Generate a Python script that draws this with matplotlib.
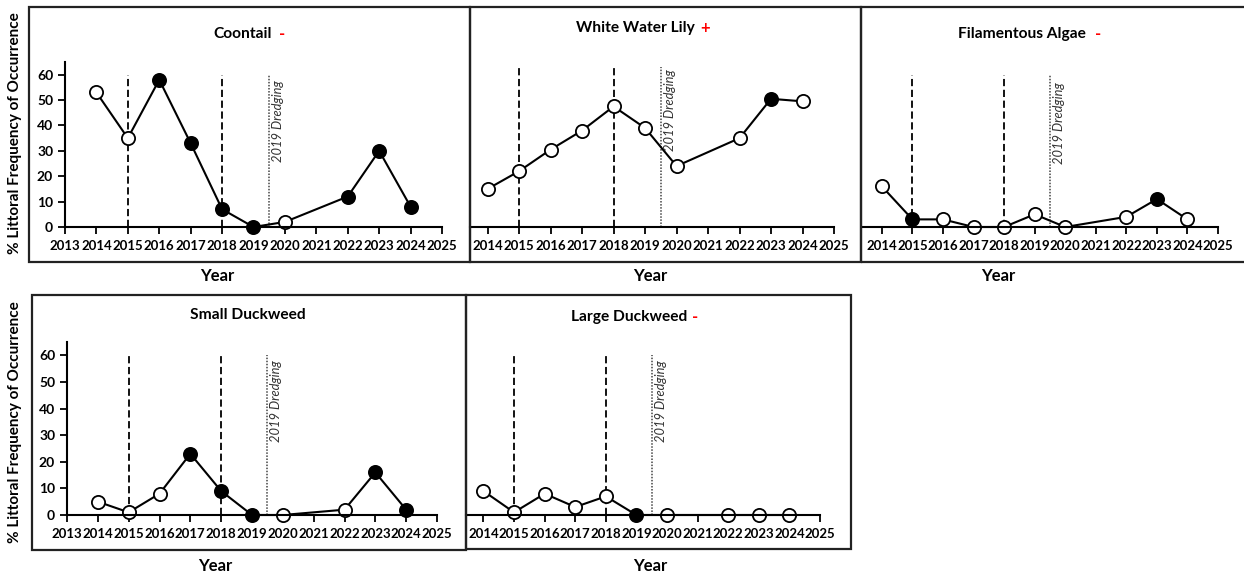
import matplotlib.pyplot as plt
from matplotlib.patches import Rectangle

plt.rcParams['font.family'] = ['Lato', 'DejaVu Sans']

years = [2014, 2015, 2016, 2017, 2018, 2019, 2020, 2022, 2023, 2024]

coontail = [53, 35, 58, 33, 7, 0, 2, 12, 30, 8]
coontail_filled = [0, 0, 1, 1, 1, 1, 0, 1, 1, 1]

lily = [15, 22, 30.5, 38, 47.5, 39, 24, 35, 50.5, 49.5]
lily_filled = [0, 0, 0, 0, 0, 0, 0, 0, 1, 0]

algae = [16, 3, 3, 0, 0, 5, 0, 4, 11, 3]
algae_filled = [0, 1, 0, 0, 0, 0, 0, 0, 1, 0]

small_dw = [5, 1, 8, 23, 9, 0, 0, 2, 16, 2]
small_dw_filled = [0, 0, 0, 1, 1, 1, 0, 0, 1, 1]

large_dw = [9, 1, 8, 3, 7, 0, 0, 0, 0, 0]
large_dw_filled = [0, 0, 0, 0, 0, 1, 0, 0, 0, 0]

W, H = 1244, 573
fig = plt.figure(figsize=(W / 100, H / 100), dpi=100)


def px_axes(left, right, top, bottom):
    return fig.add_axes([left / W, 1 - bottom / H, (right - left) / W, (bottom - top) / H])


def px_box(x0, y0, x1, y1):
    fig.add_artist(Rectangle((x0 / W, 1 - y1 / H), (x1 - x0) / W, (y1 - y0) / H,
                             transform=fig.transFigure, fill=False, ec='#222222', lw=1.6))


def draw_panel(ax, values, filled, xleft, yaxis, vline_top, text_top):
    ax.plot(years, values, color='black', lw=1.5, zorder=3, clip_on=False)
    for x, y, f in zip(years, values, filled):
        ax.plot(x, y, 'o', ms=9.5, mfc='black' if f else 'white', mec='black', mew=1.3,
                zorder=4, clip_on=False)
    for x in (2015, 2018):
        ax.vlines(x, 0, vline_top, colors='black', linestyles=(0, (4, 2)), lw=1.3, zorder=2)
    ax.vlines(2019.5, 0, vline_top, colors='#444444', linestyles=(0, (1, 1)), lw=1.1, zorder=2)
    ax.text(2019.6, text_top, '2019 Dredging', rotation=90, style='italic', color='#333333',
            fontsize=9.3, ha='left', va='top')
    first = 2013 if yaxis else 2014
    ticks = list(range(first, 2026))
    ax.set_xlim(xleft, 2025)
    ax.set_ylim(0, 65)
    ax.set_xticks(ticks)
    ax.set_xticklabels([str(t) for t in ticks], fontweight='bold', fontsize=9.5)
    ax.tick_params(axis='x', direction='out', length=5, width=1.3, pad=4)
    ax.spines['top'].set_visible(False)
    ax.spines['right'].set_visible(False)
    ax.spines['bottom'].set_linewidth(1.5)
    ax.spines['bottom'].set_zorder(5)
    if yaxis:
        ax.set_yticks([0, 10, 20, 30, 40, 50, 60])
        ax.set_yticklabels(['0', '10', '20', '30', '40', '50', '60'], fontweight='bold', fontsize=10)
        ax.tick_params(axis='y', direction='out', length=5, width=1.3)
        ax.spines['left'].set_linewidth(1.5)
    else:
        ax.spines['left'].set_visible(False)
        ax.set_yticks([])
    ax.patch.set_alpha(0)


def title(x, y, name, sign, sign_x):
    fig.text(x / W, 1 - y / H, name, fontsize=11.2, fontweight='bold', ha='left', va='center')
    if sign:
        fig.text(sign_x / W, 1 - y / H, sign, fontsize=12, fontweight='bold', color='red',
                 ha='center', va='center')


# boxes
px_box(29, 7, 470, 262)
px_box(470, 7, 861, 262)
px_box(861, 7, 1250, 262)
px_box(32, 295, 466, 550)
px_box(466, 295, 851, 549)

ax1 = px_axes(65, 442, 62, 227)
draw_panel(ax1, coontail, coontail_filled, 2013, True, 60, 58)
ax2 = px_axes(470, 834, 62, 227)
draw_panel(ax2, lily, lily_filled, 2013.44, False, 63, 62)
ax3 = px_axes(862, 1218, 62, 227)
draw_panel(ax3, algae, algae_filled, 2013.35, False, 60, 57)
ax4 = px_axes(67, 437, 342, 515)
draw_panel(ax4, small_dw, small_dw_filled, 2013, True, 60, 58)
ax5 = px_axes(466, 820, 342, 515)
draw_panel(ax5, large_dw, large_dw_filled, 2013.43, False, 60, 58)

title(213, 34, 'Coontail', '-', 282)
title(576, 28, 'White Water Lily', '+', 705)
title(958, 34, 'Filamentous Algae', '-', 1098)
title(190, 315, 'Small Duckweed', None, 0)
title(571, 317, 'Large Duckweed', '-', 695)

for x, y in [(217, 276), (650, 276), (998, 276), (215, 566), (650, 566)]:
    fig.text(x / W, 1 - y / H, 'Year', fontsize=12, fontweight='bold', ha='center', va='center')

for y in (133, 422):
    fig.text(15 / W, 1 - y / H, '% Littoral Frequency of Occurrence', rotation=90,
             fontsize=11, fontweight='bold', ha='center', va='center')

fig.savefig('out.png', dpi=100)
